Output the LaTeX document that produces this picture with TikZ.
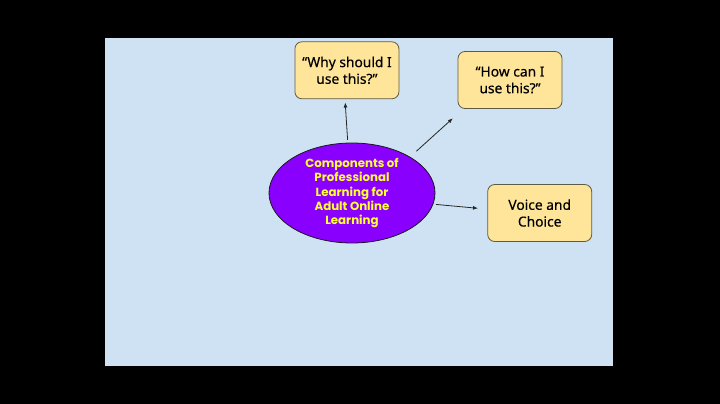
\documentclass[tikz,border=0pt]{standalone}
\usepackage{xcolor}
\usepackage{fontspec}
\setmainfont{Noto Sans}
\newfontfamily\notefont{Noto Sans}[FakeBold=0.4]
\newfontfamily\ellfont{Poppins}
\usepackage{tikz}
\usetikzlibrary{
arrows.meta,
positioning,
shapes.geometric
}
\definecolor{panelblue}{HTML}{CFE2F3}
\definecolor{noteyellow}{HTML}{FFE599}
\definecolor{noteborder}{HTML}{5F5A45}
\definecolor{ellpurple}{HTML}{8A00FF}
\definecolor{textyellow}{HTML}{FFFF33}

\begin{document}
\begin{tikzpicture}[
x=1pt, y=-1pt,
note/.style={
rectangle,
rounded corners=7pt,
draw=noteborder,
fill=noteyellow,
line width=0.8pt,
minimum width=104pt,
minimum height=57pt,
inner sep=0pt,
align=center,
font=\notefont\fontsize{13.8}{16.7}\selectfont
},
topic/.style={
ellipse,
draw=black!90,
fill=ellpurple,
line width=0.8pt,
minimum width=166pt,
minimum height=100pt,
inner sep=-4pt,
align=center,
text=textyellow,
font=\ellfont\bfseries\fontsize{11.8}{14.2}\selectfont
},
arrow/.style={-{Latex[length=5pt,width=4pt]},line width=0.8pt,black!85}
]

\fill[black] (0,0) rectangle (720,404);
\fill[panelblue] (105,38) rectangle (613,366);

\node[topic] (ell) at (352,193) {Components of\\Professional\\Learning for\\Adult Online\\Learning};
\node[note] (why) at (346.9,70.3) {“Why should I\\use this?”};
\node[note] (how) at (510,80) {“How can I\\use this?”};
\node[note] (voice) at (539.7,213) {Voice and\\Choice};

\draw[arrow] ([xshift=-4.4pt,yshift=2.7pt]ell.north) -- ([xshift=-1.7pt,yshift=-3.3pt]why.south);
\draw[arrow] ([xshift=7.6pt,yshift=4.9pt]ell.33) -- ([xshift=-4.8pt,yshift=-9.4pt]how.south west);
\draw[arrow] ([xshift=2.6pt]ell.-8) -- ([xshift=-9.3pt,yshift=4.7pt]voice.west);

\end{tikzpicture}
\end{document}
